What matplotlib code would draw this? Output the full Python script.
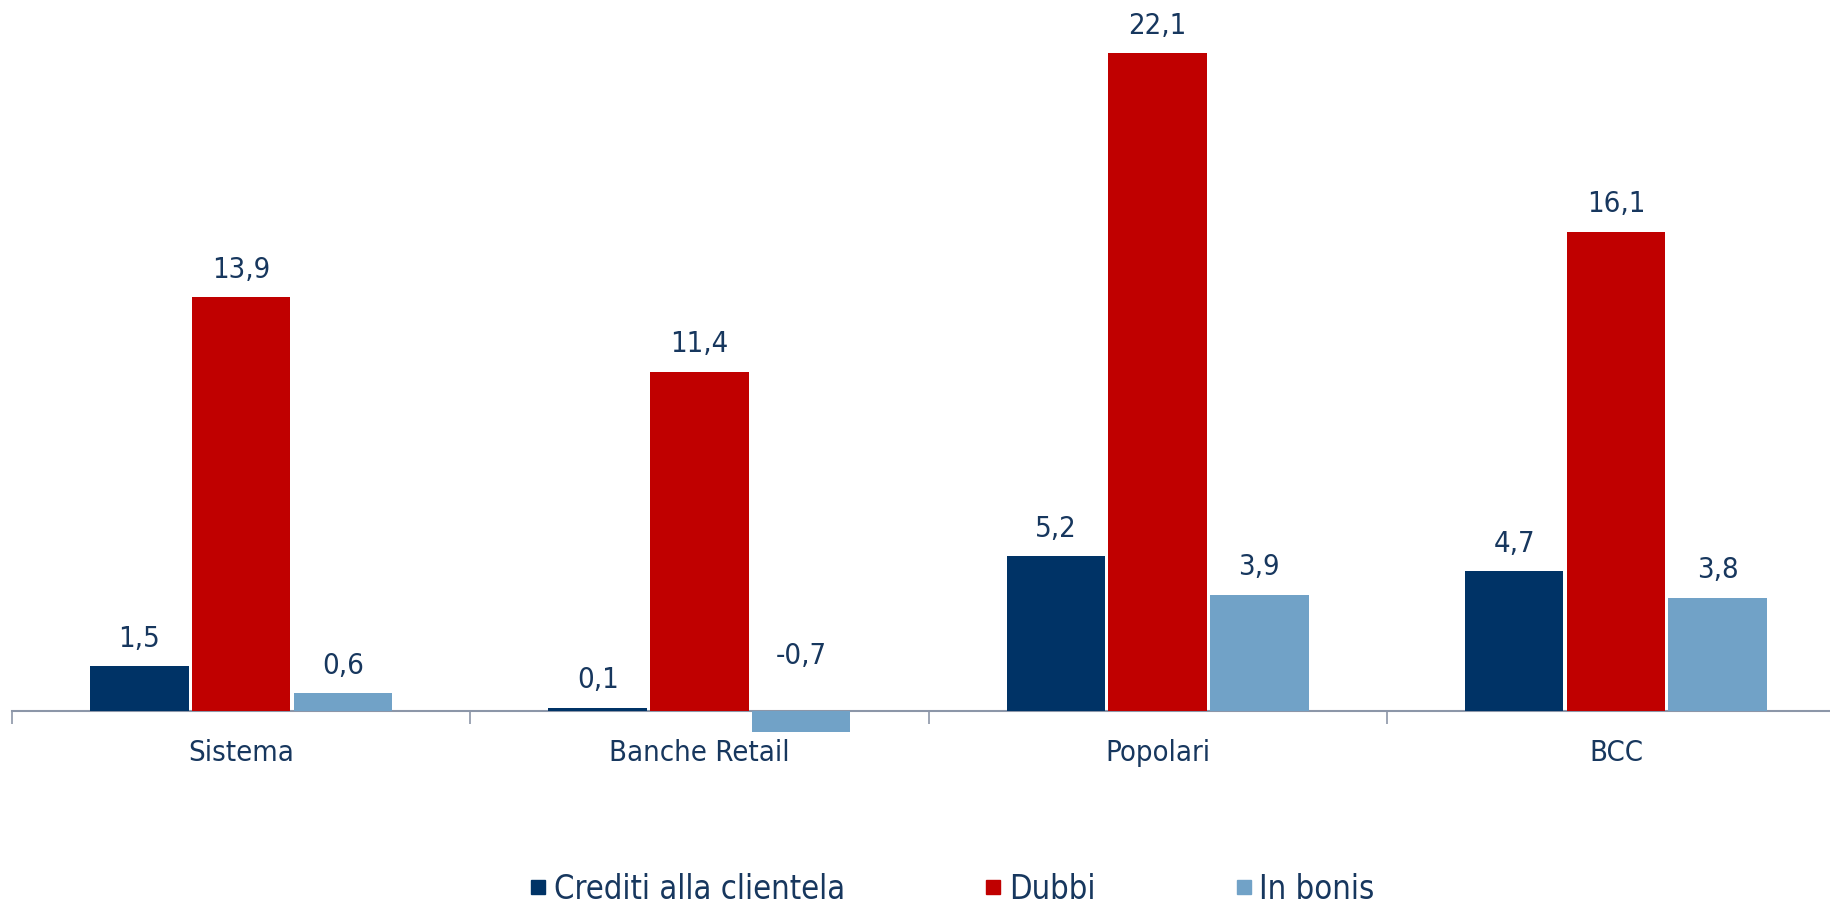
import matplotlib.pyplot as plt
from matplotlib.lines import Line2D

# ---- data ----
categories = ["Sistema", "Banche Retail", "Popolari", "BCC"]
series_names = ["Crediti alla clientela", "Dubbi", "In bonis"]
crediti = [1.5, 0.1, 5.2, 4.7]
dubbi = [13.9, 11.4, 22.1, 16.1]
in_bonis = [0.6, -0.7, 3.9, 3.8]

colors = ["#003366", "#C00000", "#71A2C7"]
text_col = "#17375E"
axis_col = "#8C96A8"

plt.rcParams['font.family'] = ['DejaVu Sans']
FS = 21
LFS = 23.5

fig = plt.figure(figsize=(18.31, 9.04), dpi=100)
W, H = 1831, 904
ax = fig.add_axes([12 / W, 104 / H, 1833 / W, 800 / H])

bar_w = 0.215
step = 0.222
for j, vals in enumerate([crediti, dubbi, in_bonis]):
    xs = [i + (j - 1) * step for i in range(len(categories))]
    ax.bar(xs, vals, width=bar_w, color=colors[j], zorder=2)
    for x, v in zip(xs, vals):
        lab = f"{v:.1f}".replace(".", ",")
        y = v + 0.96 if v >= 0 else 1.88
        ax.text(x, y, lab, ha="center", va="center",
                fontsize=FS, color=text_col, stretch="condensed")

ax.set_xlim(-0.5, 3.5)
ax.set_ylim(-2.96, 23.93)

for s in ["top", "right", "left"]:
    ax.spines[s].set_visible(False)
ax.spines["bottom"].set_position(("data", 0))
ax.spines["bottom"].set_color(axis_col)
ax.spines["bottom"].set_linewidth(1.5)
ax.spines["bottom"].set_zorder(1)
ax.set_yticks([])
ax.set_xticks([-0.5, 0.5, 1.5, 2.5, 3.5])
ax.set_xticklabels([])
ax.tick_params(axis="x", direction="out", length=9, width=1.2, color=axis_col)

for i, c in enumerate(categories):
    ax.text(i, -1.38, c, ha="center", va="center", fontsize=FS,
            color=text_col, stretch="condensed")

handles = [Line2D([], [], marker="s", linestyle="none", markersize=9.5,
                  markerfacecolor=col, markeredgecolor=col) for col in colors]
leg = fig.legend(handles, series_names, loc="center", ncol=3,
                 bbox_to_anchor=(0.5205, 14 / H), frameon=False,
                 handlelength=0.4, handletextpad=0.28,
                 columnspacing=4.35, borderpad=0,
                 prop={"size": LFS, "stretch": "condensed"})
for t in leg.get_texts():
    t.set_color(text_col)

fig.savefig("out.png", dpi=100)
